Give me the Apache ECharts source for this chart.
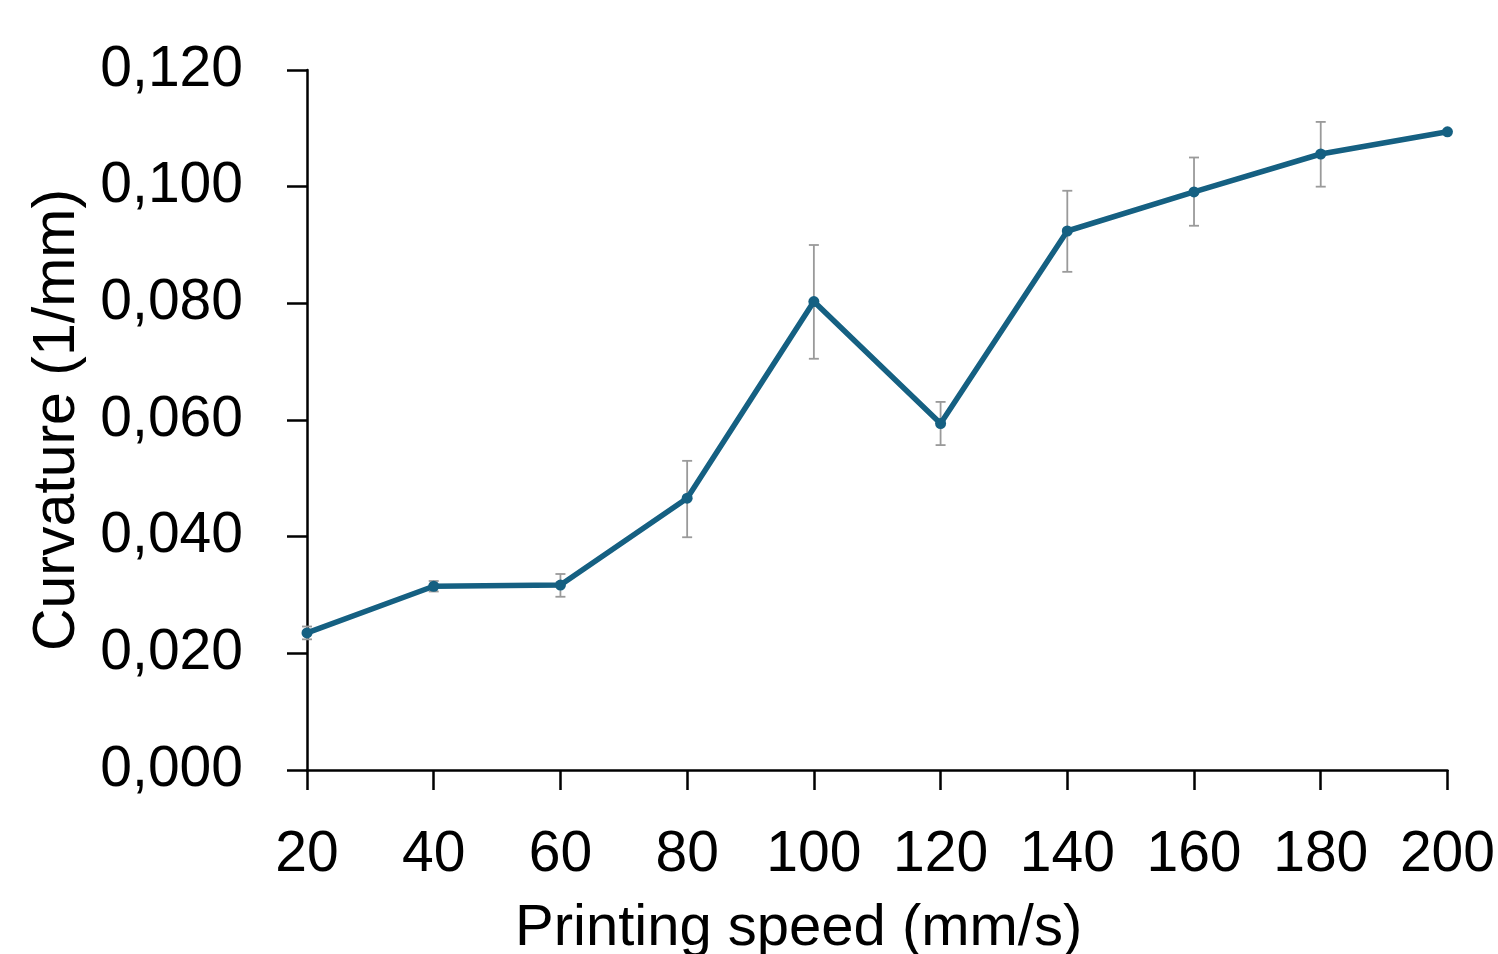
<!DOCTYPE html>
<html>
<head>
<meta charset="utf-8">
<script src="https://cdn.jsdelivr.net/npm/echarts@6/dist/echarts.min.js"></script>
<style>
html,body{margin:0;padding:0;background:#fff;overflow:hidden;}
#chart{width:1498px;height:954px;}
</style>
</head>
<body>
<div id="chart"></div>
<script>
const categories = ['20','40','60','80','100','120','140','160','180','200'];
const curvature = [0.0235, 0.0315, 0.0317, 0.0466, 0.0803, 0.0594, 0.0924, 0.0991, 0.1056, 0.1094];
const errLow = [0.0011, 0.0009, 0.0020, 0.0067, 0.0098, 0.0037, 0.0070, 0.0058, 0.0056, 0.0];
const errHigh = [0.0011, 0.0009, 0.0019, 0.0064, 0.0097, 0.0037, 0.0069, 0.0059, 0.0055, 0.0];
const yTicks = { min: 0, max: 0.12, interval: 0.02 };

const font = 'Liberation Sans, Arial, sans-serif';
const chart = echarts.init(document.getElementById('chart'));
const errData = categories.map((c, i) => [i, curvature[i] - errLow[i], curvature[i] + errHigh[i]]);

chart.setOption({
  animation: false,
  backgroundColor: '#ffffff',
  grid: { left: 307, width: 1141, top: 70, height: 700, containLabel: false },
  graphic: [{
    type: 'text',
    left: 515,
    top: 900,
    style: { text: 'Printing speed (mm/s)', font: '58px ' + font, fill: '#000' },
  }],
  xAxis: {
    type: 'category',
    data: categories,
    boundaryGap: false,
    axisLine: { lineStyle: { color: '#000', width: 2.5 } },
    axisTick: { show: true, length: 20, inside: false, alignWithLabel: true, lineStyle: { color: '#000', width: 2.5 } },
    axisLabel: { fontFamily: font, fontSize: 57, color: '#000', margin: 57 },
    splitLine: { show: false }
  },
  yAxis: {
    type: 'value',
    min: yTicks.min, max: yTicks.max, interval: yTicks.interval,
    name: 'Curvature (1/mm)',
    nameLocation: 'middle',
    nameGap: 220,
    nameTextStyle: { fontFamily: font, fontSize: 59, color: '#000' },
    axisLine: { show: true, lineStyle: { color: '#000', width: 2.5 } },
    axisTick: { show: true, length: 20, inside: false, lineStyle: { color: '#000', width: 2.5 } },
    axisLabel: { fontFamily: font, fontSize: 57, color: '#000', margin: 64,
      formatter: v => v.toFixed(3).replace('.', ',') },
    splitLine: { show: false }
  },
  series: [
    {
      type: 'custom',
      z: 1,
      data: errData,
      renderItem: function (params, api) {
        const x = api.value(0);
        const lo = api.coord([x, api.value(1)]);
        const hi = api.coord([x, api.value(2)]);
        if (Math.abs(lo[1] - hi[1]) < 0.5) return { type: 'group', children: [] };
        const w = 5;
        const style = { stroke: '#9a9a9a', lineWidth: 1.8, fill: null };
        return {
          type: 'group',
          children: [
            { type: 'line', shape: { x1: lo[0], y1: lo[1], x2: hi[0], y2: hi[1] }, style },
            { type: 'line', shape: { x1: lo[0] - w, y1: lo[1], x2: lo[0] + w, y2: lo[1] }, style },
            { type: 'line', shape: { x1: hi[0] - w, y1: hi[1], x2: hi[0] + w, y2: hi[1] }, style }
          ]
        };
      }
    },
    {
      type: 'line',
      z: 2,
      data: curvature,
      symbol: 'circle',
      symbolSize: 11,
      lineStyle: { color: '#156082', width: 5.5 },
      itemStyle: { color: '#156082' }
    }
  ]
});
</script>
</body>
</html>
